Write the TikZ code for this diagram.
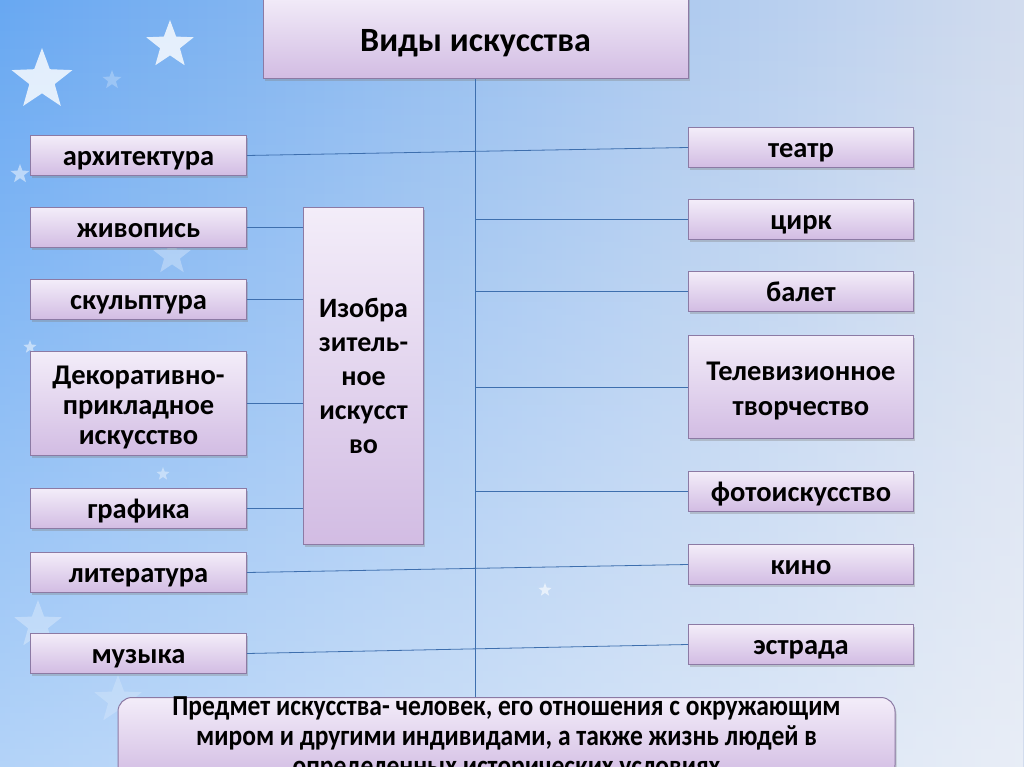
\documentclass[tikz,border=0pt]{standalone}
\usepackage{fontspec}
\setmainfont{Carlito}
\usetikzlibrary{shapes.geometric,shadows,fadings}
\definecolor{cBgL} {HTML}{68A8F2}
\definecolor{cBgM} {HTML}{84BEF8}
\definecolor{cBgR} {HTML}{D2DCEE}
\definecolor{cBoxT}{HTML}{F3EDF9}
\definecolor{cBoxB}{HTML}{D2BCE3}
\definecolor{cEdge}{HTML}{8C7AA4}
\definecolor{cLink}{HTML}{3E6FAE}
\tikzset{
  kind/.style  ={draw=cEdge,line width=1pt,top color=cBoxT,bottom color=cBoxB,
                 align=center,inner sep=3pt,anchor=north west,
                 font=\fontsize{28.5}{30}\selectfont\bfseries,
                 drop shadow={shadow xshift=1.5pt,shadow yshift=-2.5pt,opacity=.35}},
  one/.style   ={text height=25pt,text depth=5pt},
  lft/.style   ={kind,minimum width=216pt,minimum height=40pt},
  rgt/.style   ={kind,minimum width=225pt,minimum height=40pt},
  link/.style  ={draw=cLink,line width=.8pt},
  bgstar/.style={star,star points=5,star point ratio=2.4,fill=white,draw=none,
                 inner sep=0pt},
}

\begin{document}
\begin{tikzpicture}[x=1pt, y=-1pt]
\useasboundingbox (0,0) rectangle (1024,767);
\clip (0,0) rectangle (1024,767);

% backdrop: saturated blue at the upper left, pale to the right and the bottom
\fill[left color=cBgL,middle color=cBgM,right color=cBgR] (0,0) rectangle (1024,767);
\fill[white,path fading=north,opacity=.5] (0,0) rectangle (1024,767);
\foreach \x/\y/\r/\o in {42/80/64/.8, 170/45/50/.8, 112/80/20/.25, 20/174/20/.5,
                         30/347/14/.5, 163/474/14/.4, 38/625/50/.3, 118/700/50/.2,
                         545/590/14/.6, 172/256/40/.3}
  \node[bgstar,minimum size=\r,opacity=\o] at (\x,\y) {};

% headline and the two columns
\node[kind,anchor=north,minimum width=425pt,minimum height=84pt,
      text height=34pt,text depth=4pt,
      font=\fontsize{34}{36}\selectfont\bfseries] (title) at (475.5,-6) {Виды искусства};

\node[lft,one] (arch)   at (30,135) {архитектура};
\node[lft,one] (zhiv)   at (30,207) {живопись};
\node[lft,one] (skulpt) at (30,279) {скульптура};
\node[lft,minimum height=104pt] (dekor) at (30,351)
  {\rule{0pt}{27pt}Декоративно-\\прикладное\\искусство};
\node[lft,one] (graf)   at (30,488) {графика};
\node[lft,one] (lit)    at (30,552) {литература};
\node[lft,one] (muz)    at (30,633) {музыка};

\node[kind,minimum width=120pt,minimum height=337pt,
      font=\fontsize{28}{34}\selectfont\bfseries] (izo) at (303,207)
  {Изобра\\зитель-\\ное\\искусст\\во};

\node[rgt,one] (teatr) at (688,127) {театр};
\node[rgt,one] (cirk)  at (688,199) {цирк};
\node[rgt,one] (balet) at (688,271) {балет};
\node[rgt,minimum height=103pt,font=\fontsize{28.5}{35}\selectfont\bfseries] (tv)
  at (688,335) {\rule{0pt}{26pt}Телевизионное\\творчество};
\node[rgt,one] (foto)  at (688,471) {фотоискусство};
\node[rgt,one] (kino)  at (688,544) {кино};
\node[rgt,one] (estr)  at (688,624) {эстрада};

% footer box, its last line runs off the page
\node[kind,anchor=north,rounded corners=14pt,inner ysep=-1pt,minimum width=777pt,
      font=\fontsize{29}{30}\selectfont\bfseries\addfontfeature{FakeStretch=0.88}]
  (note) at (506.5,697)
  {Предмет искусства- человек, его отношения с окружающим\\
   миром и другими индивидами, а также жизнь людей в\\
   определенных исторических условиях};

% connectors
\draw[link] (title.south) -- (title.south |- note.north);
\draw[link] (arch.east) -- (teatr.west);
\draw[link] (lit.east) -- (kino.west);
\draw[link] (muz.east) -- (estr.west);
\foreach \n in {zhiv,skulpt,dekor,graf}
  \draw[link] (\n.east) -- (\n.east -| izo.west);
\foreach \n in {cirk,balet,tv,foto}
  \draw[link] (\n.west -| title.south) -- (\n.west);
\end{tikzpicture}
\end{document}
